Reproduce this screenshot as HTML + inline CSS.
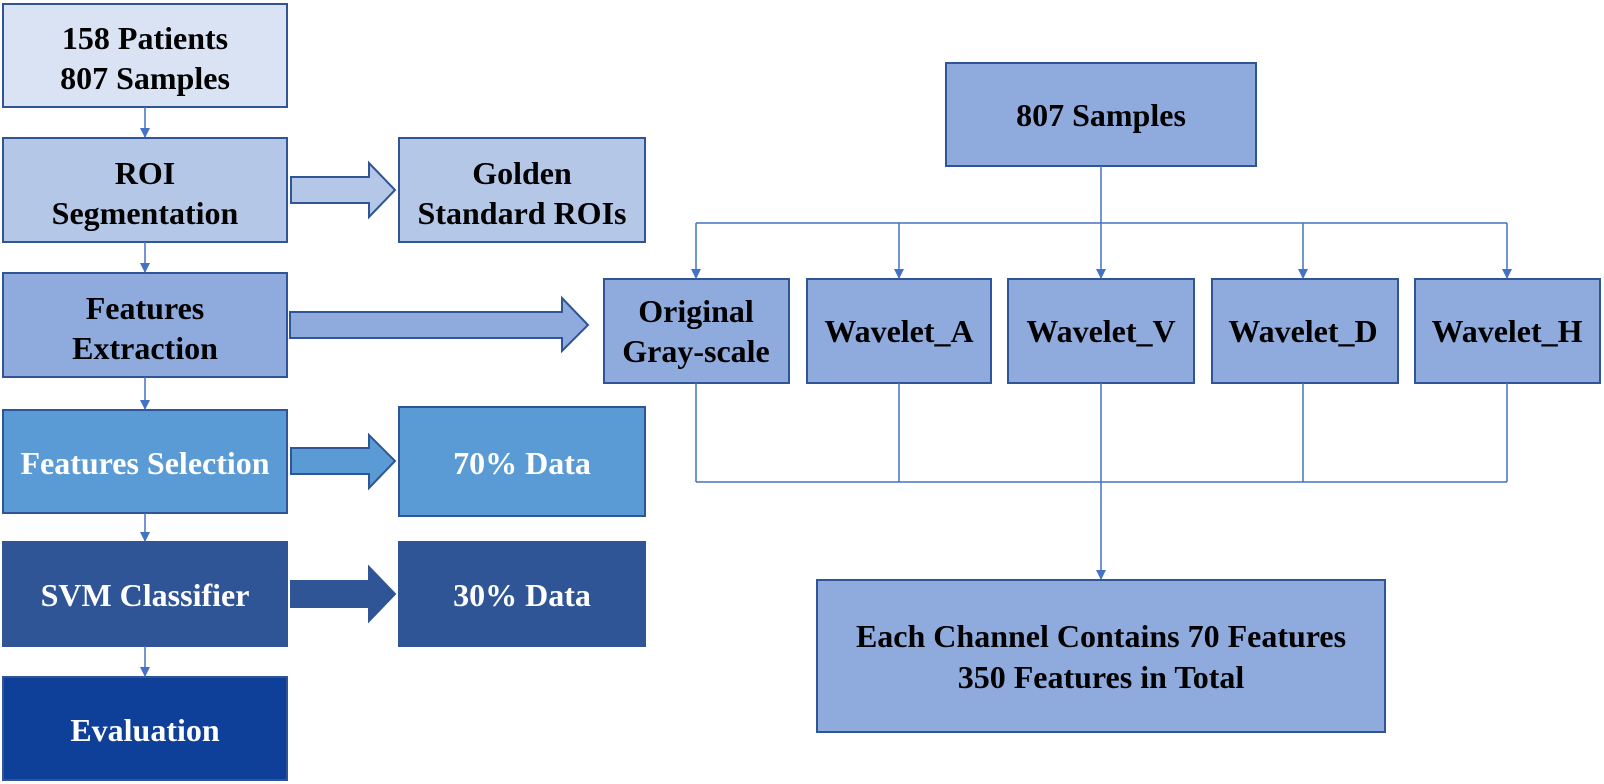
<!DOCTYPE html>
<html><head><meta charset="utf-8"><style>
html,body{margin:0;padding:0;background:#fff;}
svg{display:block;}
text{font-family:"Liberation Serif",serif;font-weight:bold;font-size:32px;text-anchor:middle;}
</style></head><body>
<svg width="1604" height="784" viewBox="0 0 1604 784" xmlns="http://www.w3.org/2000/svg">
<defs>
<marker id="ah" markerWidth="10" markerHeight="10" refX="9" refY="5" orient="auto" markerUnits="userSpaceOnUse">
<path d="M0,0 L10,5 L0,10 z" fill="#4472c4"/>
</marker>
</defs>
<g stroke="#2f5597" stroke-width="2">
<rect x="3" y="4" width="284" height="103" fill="#dae3f3"/>
<rect x="3" y="138" width="284" height="104" fill="#b4c7e7"/>
<rect x="3" y="273" width="284" height="104" fill="#8faadc"/>
<rect x="3" y="410" width="284" height="103" fill="#5b9bd5"/>
<rect x="3" y="542" width="284" height="104" fill="#2f5597"/>
<rect x="3" y="677" width="284" height="103" fill="#0e3f99"/>
<rect x="399" y="138" width="246" height="104" fill="#b4c7e7"/>
<rect x="399" y="407" width="246" height="109" fill="#5b9bd5"/>
<rect x="399" y="542" width="246" height="104" fill="#2f5597"/>
<rect x="946" y="63" width="310" height="103" fill="#8faadc"/>
<rect x="604" y="279" width="185" height="104" fill="#8faadc"/>
<rect x="807" y="279" width="184" height="104" fill="#8faadc"/>
<rect x="1008" y="279" width="186" height="104" fill="#8faadc"/>
<rect x="1212" y="279" width="186" height="104" fill="#8faadc"/>
<rect x="1415" y="279" width="185" height="104" fill="#8faadc"/>
<rect x="817" y="580" width="568" height="152" fill="#8faadc"/>
<path d="M291,177 L369,177 L369,163 L395,190 L369,217 L369,203 L291,203 z" fill="#b4c7e7"/>
<path d="M290,312 L562,312 L562,298 L588,325 L562,351 L562,338 L290,338 z" fill="#8faadc"/>
<path d="M291,448 L369,448 L369,435 L395,461 L369,488 L369,474 L291,474 z" fill="#5b9bd5"/>
<path d="M291,581 L369,581 L369,567 L395,594 L369,621 L369,607 L291,607 z" fill="#2f5597"/>
</g>
<g stroke="#4472c4" stroke-width="1.5" fill="none">
<line x1="145" y1="107" x2="145" y2="137" marker-end="url(#ah)"/>
<line x1="145" y1="242" x2="145" y2="272" marker-end="url(#ah)"/>
<line x1="145" y1="377" x2="145" y2="409" marker-end="url(#ah)"/>
<line x1="145" y1="513" x2="145" y2="541" marker-end="url(#ah)"/>
<line x1="145" y1="646" x2="145" y2="676" marker-end="url(#ah)"/>
<line x1="1101" y1="166" x2="1101" y2="278" marker-end="url(#ah)"/>
<line x1="696" y1="223" x2="1507" y2="223"/>
<line x1="696" y1="223" x2="696" y2="278" marker-end="url(#ah)"/>
<line x1="899" y1="223" x2="899" y2="278" marker-end="url(#ah)"/>
<line x1="1303" y1="223" x2="1303" y2="278" marker-end="url(#ah)"/>
<line x1="1507" y1="223" x2="1507" y2="278" marker-end="url(#ah)"/>
<line x1="696" y1="383" x2="696" y2="482"/>
<line x1="899" y1="383" x2="899" y2="482"/>
<line x1="1303" y1="383" x2="1303" y2="482"/>
<line x1="1507" y1="383" x2="1507" y2="482"/>
<line x1="696" y1="482" x2="1507" y2="482"/>
<line x1="1101" y1="383" x2="1101" y2="579" marker-end="url(#ah)"/>
</g>
<g fill="#000">
<text x="145" y="49">158 Patients</text>
<text x="145" y="89">807 Samples</text>
<text x="145" y="184">ROI</text>
<text x="145" y="224">Segmentation</text>
<text x="145" y="319">Features</text>
<text x="145" y="359">Extraction</text>
<text x="522" y="184">Golden</text>
<text x="522" y="224">Standard ROIs</text>
<text x="1101" y="126">807 Samples</text>
<text x="696" y="322">Original</text>
<text x="696" y="362">Gray-scale</text>
<text x="899" y="342">Wavelet_A</text>
<text x="1101" y="342">Wavelet_V</text>
<text x="1303" y="342">Wavelet_D</text>
<text x="1507" y="342">Wavelet_H</text>
<text x="1101" y="647">Each Channel Contains 70 Features</text>
<text x="1101" y="688">350 Features in Total</text>
</g>
<g fill="#fff">
<text x="145" y="474">Features Selection</text>
<text x="145" y="606">SVM Classifier</text>
<text x="145" y="741">Evaluation</text>
<text x="522" y="474">70% Data</text>
<text x="522" y="606">30% Data</text>
</g>
</svg>
</body></html>
